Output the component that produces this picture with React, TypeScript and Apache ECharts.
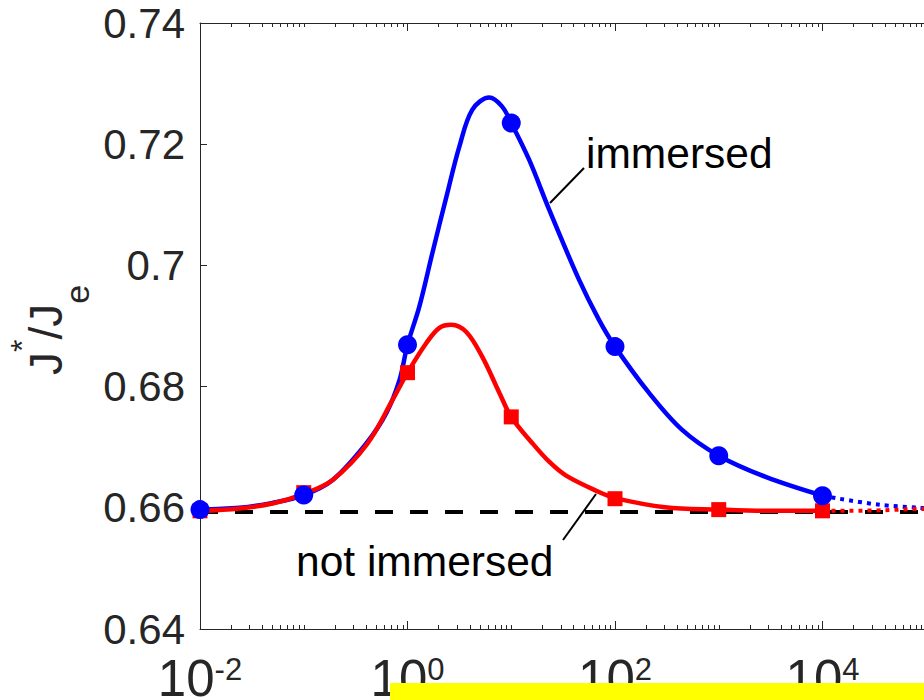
import React, { useEffect, useRef } from "react";
import * as echarts from "echarts";

// ---- data ----
const markerX = [0.01, 0.1, 1, 10, 100, 1000, 10000];
const immersedMarkers = [0.6597, 0.6621, 0.6869, 0.7235, 0.6866, 0.6686, 0.662];
const notImmersedMarkers = [0.6595, 0.6625, 0.6823, 0.675, 0.6615, 0.6597, 0.6595];

const immersedCurveX = [0.01, 0.024, 0.05, 0.1, 0.19, 0.404, 0.628, 0.838, 1, 1.3, 1.74, 2.37, 3.16, 4.22, 6.14, 8.18, 10, 14.9, 23.2, 45.1, 70.1, 100, 212, 441, 1000, 2830, 10000];
const immersedCurveY = [0.6597, 0.66, 0.6608, 0.6621, 0.6646, 0.6707, 0.6757, 0.6811, 0.6869, 0.6932, 0.7021, 0.7113, 0.7196, 0.7257, 0.7277, 0.7262, 0.7235, 0.7174, 0.7092, 0.6976, 0.691, 0.6866, 0.679, 0.6729, 0.6686, 0.6651, 0.662];

const notImmersedCurveX = [0.01, 0.024, 0.05, 0.1, 0.19, 0.404, 0.718, 1, 1.52, 2.03, 2.65, 3.69, 5.26, 7.67, 10, 15.9, 23.2, 33.8, 70.1, 100, 303, 1000, 2830, 10000];
const notImmersedCurveY = [0.6595, 0.6599, 0.6607, 0.6623, 0.6646, 0.6704, 0.6778, 0.6823, 0.6872, 0.6897, 0.6902, 0.689, 0.6849, 0.679, 0.675, 0.6707, 0.6676, 0.6653, 0.6626, 0.6616, 0.6601, 0.6597, 0.6595, 0.6595];

const immersedTailX = [10000, 14500, 35500, 85000, 100000];
const immersedTailY = [0.662, 0.6615, 0.6605, 0.66, 0.6599];
const notImmersedTailX = [10000, 17800, 39800, 85000, 100000];
const notImmersedTailY = [0.6595, 0.6595, 0.6596, 0.6598, 0.6598];

const referenceLevel = 0.6593;
const xMajorTicks = [0.01, 1, 100, 10000, 1000000];
const xTickLabels = [0.01, 1, 100, 10000];
const yTicks = [0.64, 0.66, 0.68, 0.7, 0.72, 0.74];

const FONT = "Liberation Sans, Arial, Helvetica, sans-serif";
const AXIS_COLOR = "#262626";

function zip(xs: number[], ys: number[]) {
  return xs.map((x, i) => [x, ys[i]]);
}

function minorTicks(): number[] {
  const out: number[] = [];
  for (let n = -2; n < 6; n++) {
    for (let k = 1; k <= 9; k++) {
      const v = Number((k * Math.pow(10, n)).toPrecision(6));
      if (!xMajorTicks.includes(v)) out.push(v);
    }
  }
  return out;
}

export default function App() {
  const ref = useRef<HTMLDivElement>(null);
  useEffect(() => {
    if (!ref.current) return;
    const chart = echarts.init(ref.current, undefined, { renderer: "svg" });
    const minors = minorTicks();
    const baseX = {
      type: "log" as const,
      logBase: 10,
      min: 0.01,
      max: 1000000,
      gridIndex: 0,
      splitLine: { show: false },
      minorTick: { show: false },
    };
    const option: any = {
      animation: false,
      backgroundColor: "#ffffff",
      grid: { left: 200, top: 23, width: 830, height: 606, outerBoundsMode: "none", containLabel: false },
      xAxis: [
        {
          ...baseX,
          position: "bottom",
          axisLine: { show: true, lineStyle: { color: AXIS_COLOR, width: 1 } },
          axisTick: { show: true, inside: true, length: 8, customValues: xMajorTicks, lineStyle: { color: AXIS_COLOR, width: 1 } },
          axisLabel: {
            show: true,
            customValues: xTickLabels,
            margin: 25,
            color: AXIS_COLOR,
            fontFamily: FONT,
            formatter: (v: number) => `{b|10}{s|${Math.round(Math.log10(v))}}`,
            rich: {
              b: { fontSize: 51, fontFamily: FONT, color: AXIS_COLOR, lineHeight: 50, verticalAlign: "bottom" },
              s: { fontSize: 31, fontFamily: FONT, color: AXIS_COLOR, lineHeight: 33, verticalAlign: "top" },
            },
          },
        },
        {
          ...baseX,
          position: "bottom",
          axisLine: { show: false },
          axisTick: { show: true, inside: true, length: 4, customValues: minors, lineStyle: { color: AXIS_COLOR, width: 1 } },
          axisLabel: { show: false },
        },
        {
          ...baseX,
          position: "top",
          axisLine: { show: true, lineStyle: { color: AXIS_COLOR, width: 1 } },
          axisTick: { show: true, inside: true, length: 8, customValues: xMajorTicks, lineStyle: { color: AXIS_COLOR, width: 1 } },
          axisLabel: { show: false },
        },
        {
          ...baseX,
          position: "top",
          axisLine: { show: false },
          axisTick: { show: true, inside: true, length: 4, customValues: minors, lineStyle: { color: AXIS_COLOR, width: 1 } },
          axisLabel: { show: false },
        },
      ],
      yAxis: [
        {
          type: "value",
          min: 0.64,
          max: 0.74,
          interval: 0.02,
          position: "left",
          splitLine: { show: false },
          axisLine: { show: true, lineStyle: { color: AXIS_COLOR, width: 1 } },
          axisTick: { show: true, inside: true, length: 7, customValues: yTicks, lineStyle: { color: AXIS_COLOR, width: 1 } },
          axisLabel: {
            show: true,
            customValues: yTicks,
            margin: 15,
            fontSize: 42,
            fontFamily: FONT,
            color: AXIS_COLOR,
            formatter: (v: number) => String(Number(v.toFixed(2))),
          },
        },
      ],
      series: [
        {
          type: "line",
          name: "reference",
          data: [[0.01, referenceLevel], [1000000, referenceLevel]],
          showSymbol: false,
          lineStyle: { color: "#000000", width: 4, type: [18, 17] },
          z: 1,
        },
        {
          type: "line",
          name: "immersed",
          data: zip(immersedCurveX, immersedCurveY),
          showSymbol: false,
          smooth: 0.35,
          lineStyle: { color: "#0000ff", width: 4.5 },
          z: 2,
        },
        {
          type: "line",
          name: "immersed tail",
          data: zip(immersedTailX, immersedTailY),
          showSymbol: false,
          smooth: 0.3,
          lineStyle: { color: "#0000ff", width: 4, type: [4, 5] },
          z: 2,
        },
        {
          type: "line",
          name: "not immersed",
          data: zip(notImmersedCurveX, notImmersedCurveY),
          showSymbol: false,
          smooth: 0.35,
          lineStyle: { color: "#ff0000", width: 4.5 },
          z: 3,
        },
        {
          type: "line",
          name: "not immersed tail",
          data: zip(notImmersedTailX, notImmersedTailY),
          showSymbol: false,
          smooth: 0.3,
          lineStyle: { color: "#ff0000", width: 4, type: [4, 5] },
          z: 3,
        },
        {
          type: "scatter",
          name: "not immersed points",
          data: zip(markerX, notImmersedMarkers),
          symbol: "rect",
          symbolSize: 15,
          itemStyle: { color: "#ff0000", opacity: 1 },
          z: 4,
        },
        {
          type: "scatter",
          name: "immersed points",
          data: zip(markerX, immersedMarkers),
          symbol: "circle",
          symbolSize: 19,
          itemStyle: { color: "#0000ff", opacity: 1 },
          z: 5,
        },
      ],
      graphic: [
        {
          type: "text",
          x: 46,
          y: 330,
          rotation: Math.PI / 2,
          style: {
            text: "{b|J}{sup|*}{b|/J}{sub|e}",
            align: "center",
            verticalAlign: "middle",
            fill: AXIS_COLOR,
            rich: {
              b: { fontSize: 46, fontFamily: FONT, fill: AXIS_COLOR, lineHeight: 96, verticalAlign: "middle" },
              sup: { fontSize: 32, fontFamily: FONT, fill: AXIS_COLOR, lineHeight: 32, verticalAlign: "top", padding: [8, 0, 0, 0] },
              sub: { fontSize: 34, fontFamily: FONT, fill: AXIS_COLOR, lineHeight: 34, verticalAlign: "bottom" },
            },
          },
        },
        {
          type: "text",
          x: 586,
          y: 153,
          style: { text: "immersed", fontSize: 42.5, fontFamily: FONT, fill: "#000000", align: "left", verticalAlign: "middle" },
        },
        {
          type: "line",
          shape: { x1: 550, y1: 203, x2: 584, y2: 168 },
          style: { stroke: "#000000", lineWidth: 2 },
        },
        {
          type: "text",
          x: 296,
          y: 561,
          style: { text: "not immersed", fontSize: 42.5, fontFamily: FONT, fill: "#000000", align: "left", verticalAlign: "middle" },
        },
        {
          type: "line",
          shape: { x1: 563, y1: 540, x2: 596, y2: 494 },
          style: { stroke: "#000000", lineWidth: 2 },
        },
        {
          type: "rect",
          shape: { x: 390, y: 683, width: 720, height: 17 },
          style: { fill: "#ffff00" },
          z: 100,
        },
      ],
    };
    chart.setOption(option);
    return () => chart.dispose();
  }, []);
  return (
    <div style={{ position: "absolute", left: 0, top: 0, width: 924, height: 700, overflow: "hidden", background: "#fff" }}>
      <div ref={ref} style={{ width: 1100, height: 700 }} />
    </div>
  );
}
